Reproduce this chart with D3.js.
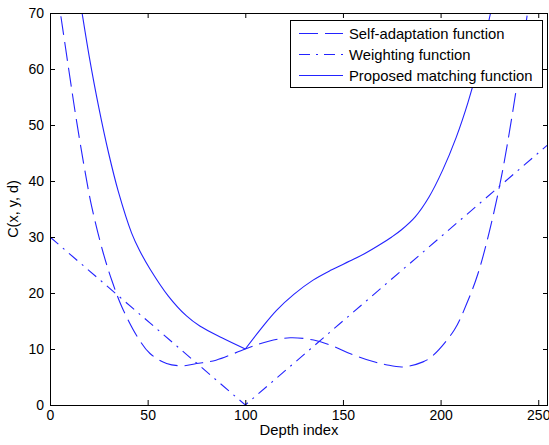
<!DOCTYPE html>
<html>
<head>
<meta charset="utf-8">
<script src="https://cdn.jsdelivr.net/npm/d3@7"></script>
<style>
  html, body { margin: 0; padding: 0; background: #fff; }
  svg { display: block; }
  text { font-family: "Liberation Sans", Arial, Helvetica, sans-serif; fill: #000; }
</style>
</head>
<body>
<script>
// ---- data ----
const seriesNames = ["Self-adaptation function", "Weighting function", "Proposed matching function"];

const selfX = [3.5, 5.1, 10.2, 13.7, 18.3, 21.3, 27.3, 31.9, 36.7, 44.7, 51.2, 59.7, 68.2, 75, 85, 100, 112, 123, 135, 145, 153.5, 165, 172, 180.7, 191, 196, 207, 213.5, 219, 225, 231, 237, 244.5, 246];
const selfY = [74, 70.5, 58.5, 50.5, 41, 35.5, 27.1, 22.0, 17.6, 12.2, 9.2, 7.4, 7.0, 7.4, 8.0, 10.0, 11.4, 12.0, 11.6, 10.5, 9.2, 7.8, 7.2, 6.8, 7.7, 8.8, 13.4, 18.2, 23.3, 31, 40.5, 52.5, 70, 73.5];

const weightX = [0, 100, 255];
const weightY = [30, 0, 46.5];

const propX = [14.8, 16.2, 20, 25, 30, 35, 41.8, 46, 51.2, 60.5, 69.9, 76.7, 88, 100, 108, 116, 125, 134.7, 144, 153.5, 161, 168.8, 175, 180, 187, 194, 201, 208, 214, 220, 225.6, 227];
const propY = [73.6, 70.5, 62.4, 53.1, 45.0, 38.1, 30.7, 27.5, 24.3, 19.5, 15.9, 14.1, 12.0, 10.0, 13.6, 16.9, 19.8, 22.3, 24.1, 25.7, 27.0, 28.6, 30.0, 31.3, 33.6, 37.1, 41.9, 47.8, 54.0, 61.5, 70, 72.2];

const xTicks = [0, 50, 100, 150, 200, 250];
const yTicks = [0, 10, 20, 30, 40, 50, 60, 70];

// ---- layout ----
const W = 549, H = 445;
const margin = { left: 50, right: 1, top: 13, bottom: 40 };
const pw = W - margin.left - margin.right;
const ph = H - margin.top - margin.bottom;

const svg = d3.select("body").append("svg").attr("width", W).attr("height", H);
const g = svg.append("g").attr("transform", `translate(${margin.left},${margin.top})`);

const x = d3.scaleLinear().domain([0, 255]).range([0, pw]);
const y = d3.scaleLinear().domain([0, 70]).range([ph, 0]);

g.append("rect").attr("width", pw).attr("height", ph).attr("fill", "#fff");

svg.append("defs").append("clipPath").attr("id", "clip")
  .append("rect").attr("width", pw).attr("height", ph);

const blue = "#2323ff";
const plot = g.append("g").attr("clip-path", "url(#clip)");

const toPts = (xs, ys) => xs.map((v, i) => [v, ys[i]]);

// self-adaptation (dashed)
const lineSmooth = d3.line().x(d => x(d[0])).y(d => y(d[1])).curve(d3.curveCatmullRom.alpha(0.5));
plot.append("path").datum(toPts(selfX, selfY))
  .attr("d", lineSmooth).attr("fill", "none").attr("stroke", blue)
  .attr("stroke-width", 1.1).attr("stroke-dasharray", "19,7");

// weighting (dash-dot)
const lineLin = d3.line().x(d => x(d[0])).y(d => y(d[1]));
plot.append("path").datum(toPts(weightX, weightY))
  .attr("d", lineLin).attr("fill", "none").attr("stroke", blue)
  .attr("stroke-width", 1.1).attr("stroke-dasharray", "11,6,2,6");

// proposed (solid) — two smooth pieces meeting at the corner
const pp = toPts(propX, propY);
const iMin = d3.minIndex(propY);
plot.append("path").attr("d", lineSmooth(pp.slice(0, iMin + 1))).attr("fill", "none").attr("stroke", blue).attr("stroke-width", 1.1);
plot.append("path").attr("d", lineSmooth(pp.slice(iMin))).attr("fill", "none").attr("stroke", blue).attr("stroke-width", 1.1);

// ---- axes ----
const fs = "14px";
const styleAxis = sel => {
  sel.select(".domain").remove();
  sel.selectAll(".tick line").attr("stroke", "#000");
  sel.selectAll("text").style("font-size", fs).attr("fill", "#000");
};
g.append("g").attr("transform", `translate(0,${ph})`)
  .call(d3.axisBottom(x).tickValues(xTicks).tickSize(-5).tickPadding(5)).call(styleAxis);
g.append("g")
  .call(d3.axisTop(x).tickValues(xTicks).tickSize(-5).tickFormat("")).call(styleAxis);
g.append("g")
  .call(d3.axisLeft(y).tickValues(yTicks).tickSize(-5).tickPadding(6)).call(styleAxis);
g.append("g").attr("transform", `translate(${pw},0)`)
  .call(d3.axisRight(y).tickValues(yTicks).tickSize(-5).tickFormat("")).call(styleAxis);

g.append("rect").attr("x", 0.5).attr("y", 0.5).attr("width", pw - 1).attr("height", ph)
  .attr("fill", "none").attr("stroke", "#000").attr("stroke-width", 1);

// axis titles
svg.append("text").attr("x", margin.left + pw / 2).attr("y", 435)
  .attr("text-anchor", "middle").style("font-size", "14.8px").text("Depth index");
svg.append("text").attr("transform", `translate(18,${margin.top + ph / 2}) rotate(-90)`)
  .attr("text-anchor", "middle").style("font-size", "14.5px").text("C(x, y, d)");

// ---- legend ----
const leg = svg.append("g");
leg.append("rect").attr("x", 290.5).attr("y", 20.5).attr("width", 252).attr("height", 67)
  .attr("fill", "#fff").attr("stroke", "#000");
const dashes = ["19,7", "11,6,2,6", null];
const rowsY = [33.5, 54.5, 75.5];
seriesNames.forEach((name, i) => {
  const l = leg.append("line").attr("x1", 299).attr("x2", 343).attr("y1", rowsY[i]).attr("y2", rowsY[i])
    .attr("stroke", blue).attr("stroke-width", 1.1);
  if (dashes[i]) l.attr("stroke-dasharray", dashes[i]);
  leg.append("text").attr("x", 349).attr("y", rowsY[i]).attr("dy", "0.36em")
    .style("font-size", "14.8px").text(name);
});
</script>
</body>
</html>
